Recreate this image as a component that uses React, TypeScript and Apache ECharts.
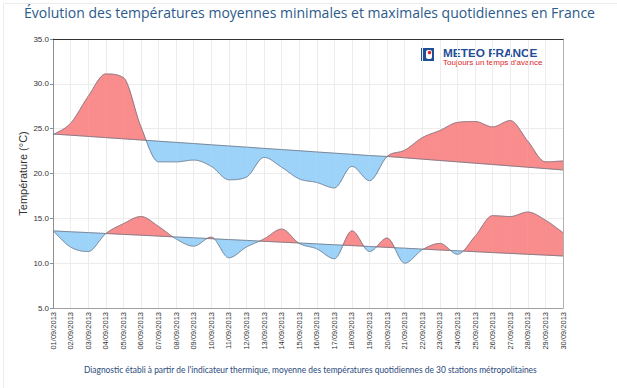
import React, { useEffect, useRef } from "react";
import * as echarts from "echarts";

const days = [
  "01/09/2013", "02/09/2013", "03/09/2013", "04/09/2013", "05/09/2013", "06/09/2013",
  "07/09/2013", "08/09/2013", "09/09/2013", "10/09/2013", "11/09/2013", "12/09/2013",
  "13/09/2013", "14/09/2013", "15/09/2013", "16/09/2013", "17/09/2013", "18/09/2013",
  "19/09/2013", "20/09/2013", "21/09/2013", "22/09/2013", "23/09/2013", "24/09/2013",
  "25/09/2013", "26/09/2013", "27/09/2013", "28/09/2013", "29/09/2013", "30/09/2013",
];

const maxActual = [
  24.3, 25.6, 28.6, 31.1, 30.7, 25.2, 21.3, 21.3, 21.5, 20.8, 19.3, 19.6, 21.8, 20.7, 19.4,
  19.0, 18.4, 20.8, 19.2, 21.9, 22.6, 24.0, 24.8, 25.7, 25.8, 25.2, 25.9, 23.6, 21.3, 21.4,
];
const maxNormal = [
  24.4, 24.27, 24.14, 24.0, 23.87, 23.74, 23.6, 23.47, 23.34, 23.2, 23.07, 22.94, 22.8, 22.67, 22.54,
  22.4, 22.27, 22.14, 22.0, 21.9, 21.75, 21.6, 21.45, 21.3, 21.15, 21.0, 20.85, 20.7, 20.55, 20.4,
];
const minActual = [
  13.6, 11.8, 11.3, 13.3, 14.4, 15.2, 14.1, 12.7, 11.9, 12.9, 10.6, 11.8, 12.7, 13.8, 12.2,
  11.6, 10.5, 13.6, 11.3, 12.8, 10.0, 11.5, 12.2, 11.0, 13.0, 15.3, 15.2, 15.7, 14.8, 13.4,
];
const minNormal = [
  13.6, 13.5, 13.41, 13.31, 13.21, 13.12, 13.02, 12.92, 12.83, 12.73, 12.63, 12.54, 12.44, 12.34, 12.25,
  12.15, 12.05, 11.96, 11.86, 11.76, 11.67, 11.57, 11.47, 11.38, 11.28, 11.18, 11.09, 10.99, 10.9, 10.8,
];

const yTicks = { min: 5, max: 35, interval: 5 };

const RED = "#f98c8c";
const BLUE = "#9dd3f8";
const OUTLINE = "#6d7280";

function tangents(y: number[]) {
  const n = y.length;
  const d: number[] = [];
  for (let k = 0; k < n - 1; k++) d.push(y[k + 1] - y[k]);
  const m: number[] = new Array(n).fill(0);
  m[0] = d[0];
  m[n - 1] = d[n - 2];
  for (let k = 1; k < n - 1; k++) {
    if (d[k - 1] * d[k] <= 0) m[k] = 0;
    else m[k] = (d[k - 1] + d[k]) / 2;
  }
  for (let k = 0; k < n - 1; k++) {
    if (d[k] === 0) { m[k] = 0; m[k + 1] = 0; continue; }
    const a = m[k] / d[k];
    const b = m[k + 1] / d[k];
    const s = a * a + b * b;
    if (s > 9) {
      const tau = 3 / Math.sqrt(s);
      m[k] = tau * a * d[k];
      m[k + 1] = tau * b * d[k];
    }
  }
  return m;
}

function hermite(y: number[], m: number[], i: number, t: number) {
  const t2 = t * t;
  const t3 = t2 * t;
  return (2 * t3 - 3 * t2 + 1) * y[i] + (t3 - 2 * t2 + t) * m[i] + (-2 * t3 + 3 * t2) * y[i + 1] + (t3 - t2) * m[i + 1];
}

function makeRender(actual: number[], normal: number[]) {
  const m = tangents(actual);
  return (params: any, api: any) => {
    const i = api.value(0) as number;
    const S = 24;
    const xa = api.coord([i, normal[i]])[0];
    const xb = api.coord([i + 1, normal[i + 1]])[0];
    const pts: { x: number; ya: number; yn: number; d: number }[] = [];
    for (let s = 0; s <= S; s++) {
      const t = s / S;
      const a = hermite(actual, m, i, t);
      const nv = normal[i] + (normal[i + 1] - normal[i]) * t;
      pts.push({ x: xa + (xb - xa) * t, ya: api.coord([i, a])[1], yn: api.coord([i, nv])[1], d: a - nv });
    }
    let sign = 0;
    for (const p of pts) {
      if (p.d !== 0) { sign = p.d > 0 ? 1 : -1; break; }
    }
    if (sign === 0) sign = 1;
    const polys: any[] = [];
    let curA: number[][] = [[pts[0].x, pts[0].ya]];
    let curN: number[][] = [[pts[0].x, pts[0].yn]];
    const close = (sg: number) => {
      const points = curA.concat(curN.slice().reverse());
      const col = sg > 0 ? RED : BLUE;
      polys.push({
        type: "polygon",
        shape: { points },
        style: { fill: col, stroke: col, lineWidth: 0.6 },
        silent: true,
      });
    };
    for (let s = 1; s <= S; s++) {
      const p = pts[s];
      const q = pts[s - 1];
      const sg = p.d > 0 ? 1 : p.d < 0 ? -1 : sign;
      if (sg !== sign) {
        const f = q.d / (q.d - p.d);
        const cx = q.x + (p.x - q.x) * f;
        const cy = q.yn + (p.yn - q.yn) * f;
        curA.push([cx, cy]);
        curN.push([cx, cy]);
        close(sign);
        curA = [[cx, cy]];
        curN = [[cx, cy]];
        sign = sg;
      }
      curA.push([p.x, p.ya]);
      curN.push([p.x, p.yn]);
    }
    close(sign);
    return {
      type: "group",
      children: [
        ...polys,
        {
          type: "polyline",
          shape: { points: pts.map((p) => [p.x, p.ya]) },
          style: { stroke: OUTLINE, lineWidth: 0.8, fill: "none" },
          silent: true,
        },
        {
          type: "line",
          shape: { x1: pts[0].x, y1: pts[0].yn, x2: pts[S].x, y2: pts[S].yn },
          style: { stroke: OUTLINE, lineWidth: 0.8 },
          silent: true,
        },
      ],
    };
  };
}

export default function App() {
  const ref = useRef<HTMLDivElement>(null);
  useEffect(() => {
    if (!ref.current) return;
    const chart = echarts.init(ref.current, undefined, { renderer: "svg" });
    const segData = (arr: number[]) => arr.slice(0, -1).map((v, i) => [i, v]);
    chart.setOption({
      animation: false,
      backgroundColor: "#ffffff",
      title: {
        text: "Évolution des températures moyennes minimales et maximales quotidiennes en France",
        left: 24,
        top: 5,
        padding: 0,
        textStyle: {
          fontSize: 14,
          fontWeight: "normal",
          color: "#2b5a8b",
          fontFamily: "'Open Sans', sans-serif",
        },
      },
      grid: { left: 53, right: 54, top: 39, bottom: 80 },
      xAxis: [
        {
          type: "category",
          data: days,
          boundaryGap: false,
          axisLine: { lineStyle: { color: "#a0a0a0" } },
          axisTick: { show: false },
          axisLabel: {
            rotate: 90,
            interval: 0,
            fontSize: 7.5,
            color: "#333",
            margin: 4,
            fontFamily: "'Liberation Sans', Arial, sans-serif",
          },
          splitLine: { show: true, lineStyle: { color: "#ececec", width: 1 } },
        },
        {
          type: "category",
          data: days,
          boundaryGap: false,
          position: "top",
          axisLine: { lineStyle: { color: "#333", width: 1 } },
          axisTick: { show: false },
          axisLabel: { show: false },
          splitLine: { show: false },
        },
      ],
      yAxis: [
        {
          type: "value",
          min: yTicks.min,
          max: yTicks.max,
          interval: yTicks.interval,
          name: "Température (°C)",
          nameLocation: "middle",
          nameGap: 25,
          nameMoveOverlap: false,
          nameTextStyle: { fontSize: 11, color: "#333", fontFamily: "'Liberation Sans', Arial, sans-serif" },
          axisLine: { show: true, lineStyle: { color: "#909090" } },
          axisTick: { show: true, length: 3, lineStyle: { color: "#909090" } },
          axisLabel: {
            formatter: (v: number) => v.toFixed(1),
            fontSize: 8,
            color: "#333",
            margin: 4,
            fontFamily: "'Liberation Sans', Arial, sans-serif",
          },
          splitLine: { show: true, lineStyle: { color: "#ececec" } },
        },
        {
          type: "value",
          min: yTicks.min,
          max: yTicks.max,
          interval: yTicks.interval,
          position: "right",
          axisLine: { show: true, lineStyle: { color: "#b0b0b0" } },
          axisTick: { show: false },
          axisLabel: { show: false },
          splitLine: { show: false },
        },
      ],
      series: [
        {
          type: "custom",
          name: "max",
          xAxisIndex: 0,
          yAxisIndex: 0,
          data: segData(maxActual),
          encode: { x: 0, y: 1 },
          renderItem: makeRender(maxActual, maxNormal),
          clip: true,
          silent: true,
        },
        {
          type: "custom",
          name: "min",
          xAxisIndex: 0,
          yAxisIndex: 0,
          data: segData(minActual),
          encode: { x: 0, y: 1 },
          renderItem: makeRender(minActual, minNormal),
          clip: true,
          silent: true,
        },
      ],
      graphic: [
        {
          type: "rect",
          left: 1,
          top: 1,
          shape: { x: 0, y: 0, width: 614, height: 385 },
          style: { fill: "none", stroke: "#ececec", lineWidth: 1 },
          silent: true,
        },
        {
          type: "group",
          left: 421,
          top: 48,
          children: [
            { type: "rect", shape: { x: 0, y: 0, width: 13, height: 13 }, style: { fill: "#1f4e96" } },
            { type: "rect", shape: { x: 5, y: 2, width: 6, height: 9, r: 2 }, style: { fill: "#ffffff" } },
            { type: "circle", shape: { cx: 8.5, cy: 4.5, r: 1.8 }, style: { fill: "#d9262b" } },
          ],
        },
        {
          type: "text",
          left: 443,
          top: 46.5,
          style: {
            text: "{a|METEO FRANCE}\n{b|Toujours un temps d'avance}",
            fontFamily: "'Liberation Sans', Arial, sans-serif",
            rich: {
              a: {
                fontSize: 11.8,
                lineHeight: 12,
                fontWeight: "bold",
                fill: "#1f4e96",
                fontFamily: "'Liberation Sans', Arial, sans-serif",
              },
              b: {
                fontSize: 8,
                lineHeight: 8,
                fill: "#d9262b",
                fontFamily: "'Liberation Sans', Arial, sans-serif",
              },
            },
          },
        },
        {
          type: "text",
          left: 84,
          top: 365,
          scaleX: 0.897,
          style: {
            text: "Diagnostic établi à partir de l'indicateur thermique, moyenne des températures quotidiennes de 30 stations métropolitaines",
            fontSize: 9.4,
            fill: "#2b4a7d",
            fontFamily: "Lato, 'Open Sans', sans-serif",
          },
        },
      ],
    });
    return () => chart.dispose();
  }, []);
  return (
    <div
      ref={ref}
      style={{ position: "absolute", left: 0, top: 0, width: 617, height: 388, background: "#fff" }}
    />
  );
}
